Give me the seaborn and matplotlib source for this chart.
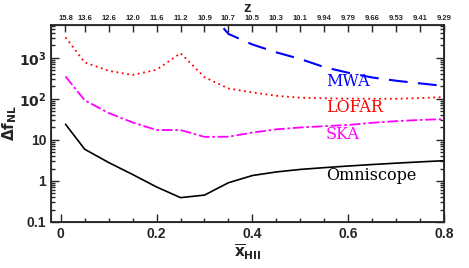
import numpy as np
import matplotlib
matplotlib.use("Agg")
import matplotlib.pyplot as plt
import seaborn as sns
from matplotlib.ticker import MultipleLocator, LogLocator, NullFormatter, FixedLocator

# mean ionized fraction grid
x_hii = [0.01, 0.05, 0.1, 0.15, 0.2, 0.25, 0.3, 0.35, 0.4, 0.45, 0.5,
         0.55, 0.6, 0.65, 0.7, 0.75, 0.8]

omniscope = [24, 5.9, 2.8, 1.43, 0.71, 0.39, 0.45, 0.9, 1.35, 1.65, 1.9,
             2.1, 2.3, 2.5, 2.7, 2.9, 3.1]
ska = [350, 92, 45, 26.5, 17.3, 17.3, 11.8, 11.9, 15, 18, 20,
       21.5, 23, 26, 28.5, 30.5, 32]
lofar = [3150, 770, 480, 380, 510, 1290, 335, 178, 143, 118, 106,
         103, 101, 100, 100, 104, 110]

x_mwa = [0.3, 0.35, 0.4, 0.45, 0.5, 0.55, 0.6, 0.65, 0.7, 0.75, 0.8]
mwa = [18000, 3800, 2100, 1350, 930, 590, 430, 330, 275, 237, 205]

# redshift labels along the top axis
z_pos = [0.01, 0.05, 0.1, 0.15, 0.2, 0.25, 0.3, 0.35, 0.4, 0.45, 0.5,
         0.55, 0.6, 0.65, 0.7, 0.75, 0.8]
z_labels = ["15.8", "13.6", "12.6", "12.0", "11.6", "11.2", "10.9", "10.7",
            "10.5", "10.3", "10.1", "9.94", "9.79", "9.66", "9.53", "9.41", "9.29"]

sns.set_style("ticks")
plt.rcParams["font.family"] = ["Liberation Sans", "DejaVu Sans"]
plt.rcParams["mathtext.fontset"] = "dejavusans"

fig = plt.figure(figsize=(4.69, 2.68), dpi=100)
ax = fig.add_axes([0.109, 0.172, 0.838, 0.735])

sns.lineplot(x=x_hii, y=omniscope, ax=ax, color="black", lw=1.2)
sns.lineplot(x=x_hii, y=ska, ax=ax, color="magenta", lw=1.3)
ax.lines[-1].set_dashes([6, 1.5, 1.5, 1.5])
sns.lineplot(x=x_hii, y=lofar, ax=ax, color="red", lw=1.3)
ax.lines[-1].set_linestyle((0, (1, 2)))
sns.lineplot(x=x_mwa, y=mwa, ax=ax, color="blue", lw=1.5)
ax.lines[-1].set_dashes([9, 5])

ax.set_yscale("log")
ax.set_xlim(-0.02, 0.8)
ax.set_ylim(0.1, 6300)

ax.xaxis.set_minor_locator(MultipleLocator(0.05))
ax.yaxis.set_minor_locator(LogLocator(base=10, subs=np.arange(2, 10)))
ax.yaxis.set_minor_formatter(NullFormatter())
ax.set_yticks([0.1, 1, 10, 100, 1000])
ax.set_yticklabels(["0.1", "1", "10", r"$\mathbf{10^2}$", r"$\mathbf{10^3}$"])
ax.set_xticks([0, 0.2, 0.4, 0.6, 0.8])
ax.set_xticklabels(["0", "0.2", "0.4", "0.6", "0.8"])

ax.tick_params(which="both", direction="in", top=False, right=True,
               width=1.0, labelsize=10)
ax.tick_params(which="major", length=6)
ax.tick_params(which="minor", length=3)
for lab in ax.get_xticklabels() + ax.get_yticklabels():
    lab.set_fontweight("bold")
for sp in ax.spines.values():
    sp.set_linewidth(1.3)

ax.set_xlabel(r"$\overline{\mathbf{x}}_{\mathbf{HII}}$", fontsize=11, labelpad=1)
ax.set_ylabel(r"$\mathbf{\Delta f_{NL}}$", fontsize=11, labelpad=0)

# top axis with redshift
ax2 = ax.twiny()
ax2.set_xlim(ax.get_xlim())
ax2.xaxis.set_major_locator(FixedLocator(z_pos))
ax2.set_xticklabels(z_labels, fontsize=5.5, fontweight="bold")
ax2.tick_params(direction="in", length=5, width=1.0, pad=2)
ax2.set_xlabel("z", fontsize=11, fontweight="bold", labelpad=2)

# curve labels
serif = "DejaVu Serif"
ax.text(0.553, 270, "MWA", color="blue", fontsize=11.5, family=serif, va="center")
ax.text(0.553, 63, "LOFAR", color="red", fontsize=11.5, family=serif, va="center")
ax.text(0.553, 13.4, "SKA", color="magenta", fontsize=11.5, family=serif, va="center")
ax.text(0.553, 1.38, "Omniscope", color="black", fontsize=11.5, family=serif, va="center")

fig.savefig("out.png", dpi=100)
